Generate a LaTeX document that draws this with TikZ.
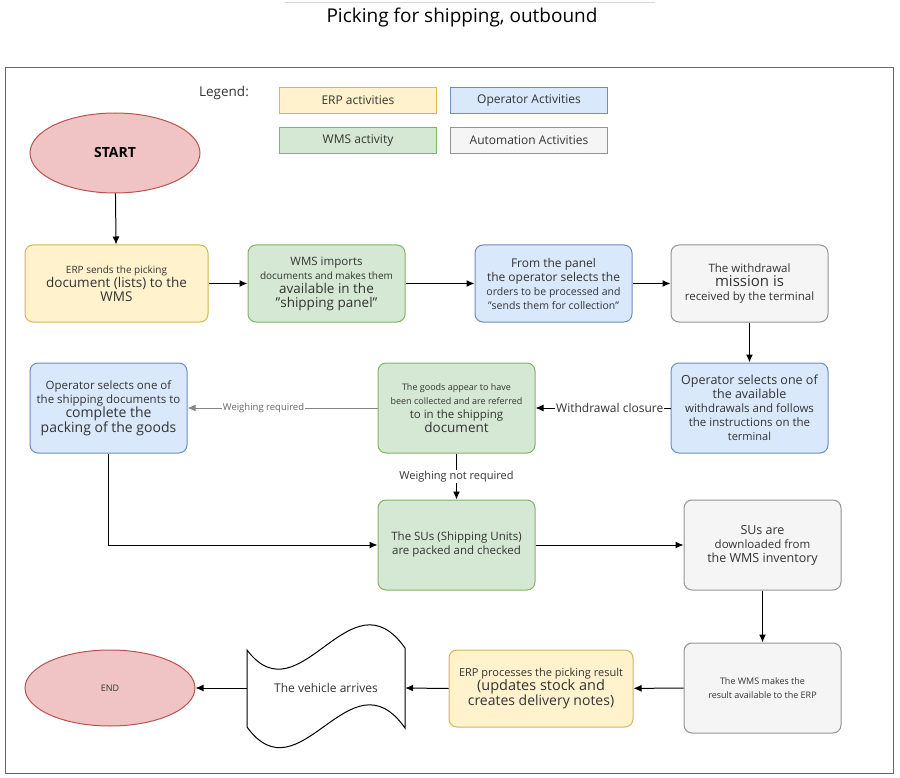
\documentclass[tikz,border=0pt]{standalone}
\usepackage{fontspec}
\setmainfont{Open Sans}
\usetikzlibrary{arrows.meta,shapes.geometric}
\definecolor{yf}{HTML}{FFF2CC}\definecolor{yd}{HTML}{D6B656}
\definecolor{gf}{HTML}{D5E8D4}\definecolor{gd}{HTML}{82B366}
\definecolor{bf}{HTML}{DAE8FC}\definecolor{bd}{HTML}{6C8EBF}
\definecolor{sf}{HTML}{F5F5F5}\definecolor{sd}{HTML}{666666}
\definecolor{pf}{HTML}{F0C4C4}\definecolor{pd}{HTML}{B85450}
\definecolor{tx}{HTML}{333333}
\begin{document}
\begin{tikzpicture}[x=1pt,y=-1pt,
  box/.style={draw,rounded corners=8pt,line width=1pt,align=center,text=tx,font=\fontsize{11}{14}\selectfont,inner sep=2pt},
  yb/.style={box,fill=yf,draw=yd},gb/.style={box,fill=gf,draw=gd},
  bb/.style={box,fill=bf,draw=bd},sb/.style={box,fill=sf,draw=sd!70},
  leg/.style={draw,line width=1pt,anchor=north west,minimum width=157pt,minimum height=26pt,inner sep=4pt,text=tx,font=\fontsize{12}{14}\selectfont},
  ar/.style={-{Latex[length=8pt,width=7pt]},line width=1pt,black},
  lab/.style={fill=white,inner sep=1pt,text=tx,font=\fontsize{11}{12}\selectfont}]
\useasboundingbox (0,0) rectangle (900,778);
\draw[gray!30] (285,2) -- (655,2);
\node[font=\fontsize{19}{22}\selectfont] (title) at (462,18) {Picking for shipping, outbound};
\draw[sd,line width=1pt] (5,68) rectangle (893,773);
\node[text=tx,font=\fontsize{13.5}{14}\selectfont] (legend) at (224,93) {Legend:};
\node[leg,fill=yf,draw=yd] (l1) at (279,87) {ERP activities};
\node[leg,fill=bf,draw=bd] (l2) at (450,87) {Operator Activities};
\node[leg,fill=gf,draw=gd] (l3) at (279,127) {WMS activity};
\node[leg,fill=sf,draw=sd!70] (l4) at (450,127) {Automation Activities};
\node[ellipse,draw=pd,fill=pf,line width=1pt,minimum width=170pt,minimum height=80pt,font=\bfseries\fontsize{14}{14}\selectfont] (start) at (115,153) {START};
\node[ellipse,draw=pd,fill=pf,line width=1pt,minimum width=170pt,minimum height=76pt,font=\fontsize{9}{10}\selectfont,text=tx] (end) at (110,688) {END};
% row 1
\node[yb,minimum width=183pt,minimum height=77pt] (erp) at (116.5,283.5) {{\fontsize{10}{14}\selectfont ERP sends the picking}\\{\fontsize{13.5}{17}\selectfont document (lists) to the}\\{\fontsize{13.5}{17}\selectfont WMS}};
\node[gb,minimum width=157pt,minimum height=77pt] (wms) at (326.5,283.5) {{\fontsize{11.5}{14}\selectfont WMS imports}\\{\fontsize{10}{14}\selectfont documents and makes them}\\{\fontsize{13.5}{17}\selectfont available in the}\\{\fontsize{13.5}{16}\selectfont "shipping panel"}};
\node[bb,minimum width=157pt,minimum height=77pt] (panel) at (553.5,283.5) {{\fontsize{12}{15}\selectfont From the panel}\\{\fontsize{12}{15}\selectfont the operator selects the}\\{\fontsize{10.5}{15}\selectfont orders to be processed and}\\{\fontsize{10.5}{14}\selectfont "sends them for collection"}};
\node[sb,minimum width=157pt,minimum height=77pt] (mission) at (749.5,283.5) {{\fontsize{11.5}{14}\selectfont The withdrawal}\\{\fontsize{15}{18}\selectfont mission is}\\{\fontsize{11.5}{14}\selectfont received by the terminal}};
% row 2
\node[bb,minimum width=157pt,minimum height=90pt] (opl) at (108.5,408) {{\fontsize{11.5}{15}\selectfont Operator selects one of}\\{\fontsize{11.5}{15}\selectfont the shipping documents to}\\{\fontsize{14}{18}\selectfont complete the}\\{\fontsize{14}{18}\selectfont packing of the goods}};
\node[gb,minimum width=157pt,minimum height=90pt] (goods) at (456.5,408) {{\fontsize{9}{14}\selectfont The goods appear to have}\\{\fontsize{9}{14}\selectfont been collected and are referred}\\{\fontsize{11.5}{16}\selectfont to in the shipping}\\{\fontsize{13.5}{16}\selectfont document}};
\node[bb,minimum width=157pt,minimum height=90pt] (opr) at (749.5,408) {{\fontsize{12.5}{16}\selectfont Operator selects one of}\\{\fontsize{12.5}{16}\selectfont the available}\\{\fontsize{11.5}{17}\selectfont withdrawals and follows}\\{\fontsize{11.5}{16}\selectfont the instructions on the}\\{\fontsize{11}{13}\selectfont terminal}};
% row 3
\node[gb,minimum width=157pt,minimum height=90pt] (sus) at (456.5,545) {{\fontsize{11.5}{16}\selectfont The SUs (Shipping Units)}\\{\fontsize{11.5}{16}\selectfont are packed and checked}};
\node[sb,minimum width=157pt,minimum height=90pt] (down) at (762.5,545) {{\fontsize{12.5}{17}\selectfont SUs are}\\{\fontsize{11.5}{17}\selectfont downloaded from}\\{\fontsize{12.5}{17}\selectfont the WMS inventory}};
% row 4
\node[sb,minimum width=157pt,minimum height=90pt] (res) at (762.5,688) {{\fontsize{9}{14}\selectfont The WMS makes the}\\{\fontsize{9}{14}\selectfont result available to the ERP}};
\node[yb,minimum width=184pt,minimum height=77pt] (proc) at (541,688.5) {{\fontsize{11}{16}\selectfont ERP processes the picking result}\\{\fontsize{14.5}{17}\selectfont (updates stock and}\\{\fontsize{14}{17}\selectfont creates delivery notes)}};
\draw[line width=1pt,fill=white] (247,650) .. controls (300,720) and (350,570) .. (405,648) -- (405,728) .. controls (350,650) and (300,800) .. (247,727) -- cycle;
\node[inner sep=0,minimum width=158pt,minimum height=80pt,text=tx,font=\fontsize{12}{14}\selectfont] (tape) at (326,688) {The vehicle arrives};
% connectors
\draw[ar] (start) -- (erp);
\draw[ar] (erp) -- (wms);
\draw[ar] (wms) -- (panel);
\draw[ar] (panel) -- (mission);
\draw[ar] (mission) -- (opr);
\draw[ar] (opr) -- node[lab,font=\fontsize{12}{13}\selectfont,pos=0.45]{Withdrawal closure} (goods);
\draw[ar,sd!80] (goods) -- node[lab,pos=0.6,font=\fontsize{9.5}{11}\selectfont,text=sd]{Weighing required} (opl);
\draw[ar] (goods) -- node[lab,pos=0.5]{Weighing not required} (sus.north);
\draw[ar] (opl.south) |- (sus.west);
\draw[ar] (sus) -- (down);
\draw[ar] (down) -- (res);
\draw[ar] (res) -- (proc);
\draw[ar] (proc.west) -- (tape.east);
\draw[ar] (tape.west) -- (end);
\end{tikzpicture}
\end{document}
